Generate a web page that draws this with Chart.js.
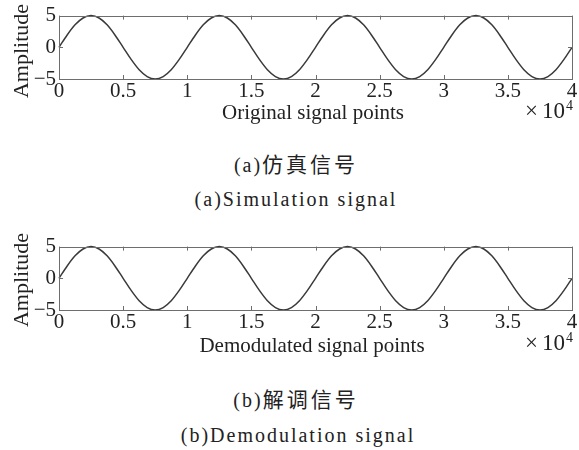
<!DOCTYPE html>
<html>
<head>
<meta charset="utf-8">
<script src="https://cdn.jsdelivr.net/npm/chart.js@4"></script>
<style>
  body { margin: 0; width: 579px; height: 450px; background: #fff; position: relative; overflow: hidden;
         font-family: "Liberation Serif", "Times New Roman", Tinos, "DejaVu Serif", serif; color: #222; }
  .plot { position: absolute; left: 0; width: 579px; height: 110px; }
  .t { position: absolute; white-space: nowrap; transform: translate(-50%, -50%); }
  .ylab { position: absolute; white-space: nowrap; font-size: 22px; line-height: 22px;
          transform: translate(-50%, -50%) rotate(-90deg); }
  .xlab { font-size: 21px; line-height: 21px; }
  .mul { position: absolute; font-size: 23px; line-height: 23px; white-space: nowrap; }
  .mul span { margin-right: 4px; }
  .pow { position: absolute; font-size: 14px; line-height: 14px; }
  .cap { font-size: 20px; line-height: 22px; letter-spacing: 2px; }
  .cjk { font-family: "Noto Sans CJK SC"; font-size: 21px; letter-spacing: 3px; }
</style>
</head>
<body>
<div class="plot" style="top:0"><canvas id="chartA"></canvas></div>
<div class="plot" style="top:231px"><canvas id="chartB"></canvas></div>

<div class="ylab" style="left:21px;top:51px">Amplitude</div>
<div class="t xlab" style="left:313px;top:112px">Original signal points</div>
<div class="mul" style="left:525px;top:99px"><span>×</span>10</div>
<div class="pow" style="left:566px;top:99px">4</div>
<div class="t cap" style="left:296px;top:164px">(a)<span class="cjk">仿真信号</span></div>
<div class="t cap" style="left:296px;top:199px">(a)Simulation signal</div>

<div class="ylab" style="left:21px;top:280px">Amplitude</div>
<div class="t xlab" style="left:312px;top:345px">Demodulated signal points</div>
<div class="mul" style="left:525px;top:331px"><span>×</span>10</div>
<div class="pow" style="left:566px;top:331px">4</div>
<div class="t cap" style="left:296px;top:399px">(b)<span class="cjk">解调信号</span></div>
<div class="t cap" style="left:298px;top:435px">(b)Demodulation signal</div>

<script>
// signal points (x axis), read every 625 points off the plots
const samplePoints = [0, 625, 1250, 1875, 2500, 3125, 3750, 4375, 5000, 5625, 6250, 6875, 7500, 8125, 8750, 9375,
  10000, 10625, 11250, 11875, 12500, 13125, 13750, 14375, 15000, 15625, 16250, 16875, 17500, 18125, 18750, 19375,
  20000, 20625, 21250, 21875, 22500, 23125, 23750, 24375, 25000, 25625, 26250, 26875, 27500, 28125, 28750, 29375,
  30000, 30625, 31250, 31875, 32500, 33125, 33750, 34375, 35000, 35625, 36250, 36875, 37500, 38125, 38750, 39375,
  40000];

const originalSignal = [0, 1.91, 3.54, 4.62, 5, 4.62, 3.54, 1.91, 0, -1.91, -3.54, -4.62, -5, -4.62, -3.54, -1.91,
  0, 1.91, 3.54, 4.62, 5, 4.62, 3.54, 1.91, 0, -1.91, -3.54, -4.62, -5, -4.62, -3.54, -1.91,
  0, 1.91, 3.54, 4.62, 5, 4.62, 3.54, 1.91, 0, -1.91, -3.54, -4.62, -5, -4.62, -3.54, -1.91,
  0, 1.91, 3.54, 4.62, 5, 4.62, 3.54, 1.91, 0, -1.91, -3.54, -4.62, -5, -4.62, -3.54, -1.91,
  0];

const demodulatedSignal = [0, 1.91, 3.54, 4.62, 5, 4.62, 3.54, 1.91, 0, -1.91, -3.54, -4.62, -5, -4.62, -3.54, -1.91,
  0, 1.91, 3.54, 4.62, 5, 4.62, 3.54, 1.91, 0, -1.91, -3.54, -4.62, -5, -4.62, -3.54, -1.91,
  0, 1.91, 3.54, 4.62, 5, 4.62, 3.54, 1.91, 0, -1.91, -3.54, -4.62, -5, -4.62, -3.54, -1.91,
  0, 1.91, 3.54, 4.62, 5, 4.62, 3.54, 1.91, 0, -1.91, -3.54, -4.62, -5, -4.62, -3.54, -1.91,
  0];

const xTickStep = 5000;   // labelled as 0, 0.5, ... 4 (x10^4)
const yTicks = [-5, 0, 5];

const tickFont = { family: '"Liberation Serif", "Times New Roman", Tinos, serif', size: 21 };

// box + inward tick marks on all four sides, like the matlab axes
const boxTicks = {
  id: 'boxTicks',
  afterDatasetsDraw(chart) {
    const { ctx, chartArea: a, scales: { x, y } } = chart;
    ctx.save();
    ctx.strokeStyle = '#6e6e6e';
    ctx.lineWidth = 1;
    ctx.beginPath();
    x.ticks.forEach(t => {
      const px = Math.round(x.getPixelForValue(t.value)) + 0.5;
      ctx.moveTo(px, a.top); ctx.lineTo(px, a.top + 4);
      ctx.moveTo(px, a.bottom); ctx.lineTo(px, a.bottom - 4);
    });
    y.ticks.forEach(t => {
      const py = Math.round(y.getPixelForValue(t.value)) + 0.5;
      ctx.moveTo(a.left, py); ctx.lineTo(a.left + 4, py);
      ctx.moveTo(a.right, py); ctx.lineTo(a.right - 4, py);
    });
    ctx.stroke();
    ctx.strokeRect(Math.round(a.left) + 0.5, Math.round(a.top) + 0.5,
                   Math.round(a.right - a.left), Math.round(a.bottom - a.top));
    ctx.restore();
  }
};

function makeChart(id, values) {
  const ctx = document.getElementById(id).getContext('2d');
  return new Chart(ctx, {
    type: 'line',
    data: {
      datasets: [{
        data: samplePoints.map((p, i) => ({ x: p, y: values[i] })),
        borderColor: '#3a3a3a',
        borderWidth: 1.5,
        pointRadius: 0,
        cubicInterpolationMode: 'monotone',
        clip: false
      }]
    },
    options: {
      responsive: true,
      maintainAspectRatio: false,
      animation: false,
      layout: { padding: { top: 15, right: 7, left: 0, bottom: 0 } },
      plugins: { legend: { display: false }, tooltip: { enabled: false } },
      scales: {
        x: {
          type: 'linear',
          min: 0,
          max: 40000,
          grid: { display: false, drawTicks: false, tickLength: 0 },
          border: { display: false },
          afterFit: s => { s.height = 31; },
          ticks: {
            stepSize: xTickStep,
            padding: 0,
            maxRotation: 0,
            color: '#222',
            font: tickFont,
            callback: v => String(v / 10000)
          }
        },
        y: {
          min: -5,
          max: 5,
          grid: { display: false, drawTicks: false, tickLength: 0 },
          border: { display: false },
          afterFit: s => { s.width = 59; },
          afterBuildTicks: s => { s.ticks = yTicks.map(v => ({ value: v })); },
          ticks: {
            padding: 3,
            color: '#222',
            font: tickFont,
            callback: v => (v < 0 ? '\u2212' + Math.abs(v) : String(v))
          }
        }
      }
    },
    plugins: [boxTicks]
  });
}

makeChart('chartA', originalSignal);
makeChart('chartB', demodulatedSignal);
</script>
</body>
</html>
